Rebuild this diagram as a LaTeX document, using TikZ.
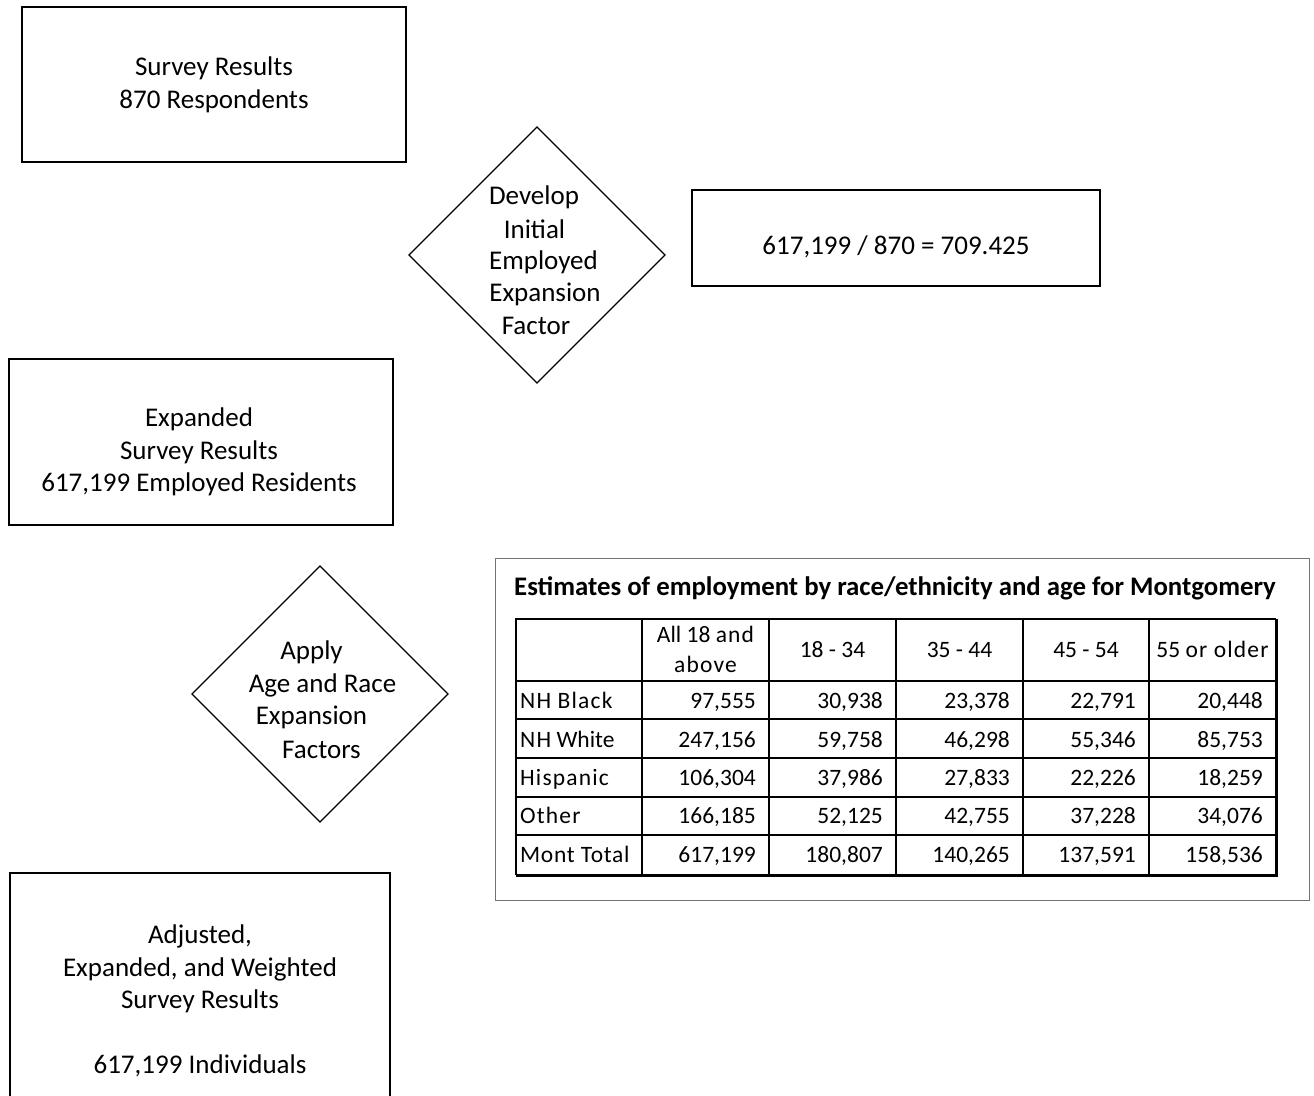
\documentclass[tikz,border=0pt]{standalone}
\usepackage{fontspec}
\setmainfont{Carlito}
\newfontfamily\spacedfont[LetterSpace=5]{Carlito}
\newfontfamily\lightspaced[LetterSpace=3]{Carlito}
\newcommand{\tabrow}[7]{%
  \node[celltxt, anchor=base west] (#1l) at (520,#2) {#3};
  \node[celltxt, anchor=base east] (#1a) at (756,#2) {#4};
  \node[celltxt, anchor=base east] (#1b) at (883,#2) {#5};
  \node[celltxt, anchor=base east] (#1c) at (1010,#2) {#6};
  \node[celltxt, anchor=base east] (#1d) at (1136,#2) {#7};
}
\begin{document}
\begin{tikzpicture}[x=1pt,y=-1pt,
  boxtxt/.style={font=\fontsize{27}{32.5}\selectfont, align=center, inner sep=0pt},
  frame/.style={draw=black, line width=1.3pt},
  celltxt/.style={font=\fontsize{23.5}{30}\selectfont, inner sep=0pt},
  grid/.style={line width=1.3pt}]
\useasboundingbox (0,0) rectangle (1314,1095);
\clip (0,0) rectangle (1314,1095);
\fill[white] (0,0) rectangle (1314,1095);

% Box 1
\draw[frame] (22,7) rectangle (406,162);
\node[boxtxt] (b1) at (214,85) {Survey Results\\870 Respondents};

% Diamond 1
\coordinate (d1) at (537,255);
\draw[frame] ([yshift=-128pt]d1) -- ([xshift=128pt]d1) -- ([yshift=128pt]d1) -- ([xshift=-128pt]d1) -- cycle;
\node[boxtxt] (t1a) at (534,197) {Develop};
\node[boxtxt] (t1b) at (534.5,229) {Initial};
\node[boxtxt] (t1c) at (543.5,262) {Employed};
\node[boxtxt] (t1d) at (545,294) {Expansion};
\node[boxtxt] (t1e) at (536,326) {Factor};

% Box 2
\draw[frame] (692,190) rectangle (1100,286);
\node[boxtxt] (b2) at (896,247) {617,199 / 870 = 709.425};

% Box 3
\draw[frame] (9,359) rectangle (393,525);
\node[boxtxt] (b3) at (199,452) {Expanded\\Survey Results\\617,199 Employed Residents};

% Diamond 2
\coordinate (d2) at (320,694);
\draw[frame] ([yshift=-128pt]d2) -- ([xshift=128pt]d2) -- ([yshift=128pt]d2) -- ([xshift=-128pt]d2) -- cycle;
\node[boxtxt] (t2a) at (311.5,652) {Apply};
\node[boxtxt] (t2b) at (322.5,685) {Age and Race};
\node[boxtxt] (t2c) at (311.5,717) {Expansion};
\node[boxtxt] (t2d) at (321.5,750) {Factors};

% Box 4
\draw[frame] (10,1120) -- (10,873) -- (390,873) -- (390,1120);
\node[boxtxt] (b4) at (200,1001) {Adjusted,\\Expanded, and Weighted\\Survey Results\\[32.5pt]617,199 Individuals};

% Table frame
\draw[draw=black!55, line width=1pt] (495,558) rectangle (1309,900);
\node[font=\bfseries\fontsize{26.8}{30}\selectfont, anchor=west, inner sep=0pt] (title) at (514,588)
  {Estimates of employment by race/ethnicity and age for Montgomery};

% grid
\foreach \y in {681,719,758,797,835} \draw[grid] (516,\y) -- (1276,\y);
\foreach \x in {642,769,896,1023,1149} \draw[grid] (\x,619) -- (\x,875);
\draw[line width=1.6pt] (1276,619) -- (516,619) -- (516,875);
\draw[line width=3pt] (516,875) -- (1276,875) -- (1276,619);

% header
\node[celltxt, anchor=base] (h1) at (705.5,642) {All 18 {\spacedfont and}};
\node[celltxt, anchor=base] (h1b) at (705.5,672) {\spacedfont above};
\node[celltxt, anchor=base] (h2) at (832.5,657.5) {18 - 34};
\node[celltxt, anchor=base] (h3) at (959.5,657.5) {35 - 44};
\node[celltxt, anchor=base] (h4) at (1086,657.5) {45 - 54};
\node[celltxt, anchor=base] (h5) at (1212.5,657.5) {55 {\spacedfont or older}};

% rows
\tabrow{r1}{708.5}{\spacedfont NH Black}{97,555}{30,938}{23,378}{22,791}
\node[celltxt, anchor=base east] (r1e) at (1263,708.5) {20,448};
\tabrow{r2}{747.5}{{\spacedfont NH} White}{247,156}{59,758}{46,298}{55,346}
\node[celltxt, anchor=base east] (r2e) at (1263,747.5) {85,753};
\tabrow{r3}{785.5}{\spacedfont Hispanic}{106,304}{37,986}{27,833}{22,226}
\node[celltxt, anchor=base east] (r3e) at (1263,785.5) {18,259};
\tabrow{r4}{823.5}{\spacedfont Other}{166,185}{52,125}{42,755}{37,228}
\node[celltxt, anchor=base east] (r4e) at (1263,823.5) {34,076};
\tabrow{r5}{862.5}{\lightspaced Mont Total}{617,199}{180,807}{140,265}{137,591}
\node[celltxt, anchor=base east] (r5e) at (1263,862.5) {158,536};
\end{tikzpicture}
\end{document}
